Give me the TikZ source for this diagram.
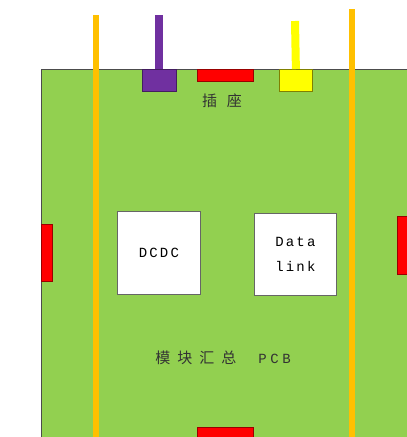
\documentclass[tikz,border=0pt]{standalone}
\usepackage{fontspec}
\newfontfamily\cjk{Noto Sans CJK SC}
\setmonofont{Liberation Mono}
\definecolor{pcbgreen}{HTML}{92D050}
\definecolor{rail}{HTML}{FFC000}
\definecolor{purp}{HTML}{7030A0}
\definecolor{yel}{HTML}{FFFF00}
\newcommand{\lsp}{\hspace{2.2pt}}
\newcommand{\csp}{\hspace{10pt}}
\tikzset{
  part/.style={draw=#1!60!black, line width=0.8pt, inner sep=0pt, outer sep=0pt},
  redpad/.style={part=red, fill=red, rectangle, anchor=north west},
  chip/.style={draw=black!60, fill=white, line width=0.8pt, rectangle, anchor=north west, inner sep=0pt, align=center, font=\fontsize{14}{16}\selectfont\ttfamily},
  lbl/.style={font=\fontsize{15}{17}\selectfont, text=black!80},
}
\begin{document}
\begin{tikzpicture}[x=1pt,y=-1pt]
\useasboundingbox (0,0) rectangle (407,437);
% board
\fill[pcbgreen] (41,69) rectangle (407,437);
\draw[black!70, line width=0.8pt] (41,437) -- (41,69) -- (407,69);
% pads
\node[redpad, minimum width=56, minimum height=12] (rtop) at (197,69) {};
\node[redpad, minimum width=11, minimum height=57] (rleft) at (41,224) {};
\node[redpad, minimum width=12, minimum height=58] (rright) at (397,216) {};
\node[redpad, minimum width=56, minimum height=12] (rbot) at (197,427) {};
% connectors
\node[part=purp, fill=purp, anchor=north west, minimum width=34, minimum height=22] (pbox) at (142,69) {};
\node[draw=yel!50!black, line width=0.8pt, fill=yel, anchor=north west, minimum width=33, minimum height=22, inner sep=0pt] (ybox) at (279,69) {};
\coordinate (ptop) at (159,15);
\coordinate (ytop) at (295,21);
\draw[purp, line width=8pt] (ptop) -- (pbox.north);
\draw[yel, line width=8pt] (ytop) -- (ybox.north);
% chips
\node[chip, minimum width=83, minimum height=83] (dcdc) at (117,211) {D\lsp C\lsp D\lsp C};
\node[chip, minimum width=82, minimum height=82] (dl) at (254,213) {D\lsp a\lsp t\lsp a\\[9pt]l\lsp i\lsp n\lsp k};
% labels
\node[lbl] (socket) at (222,101) {\cjk 插\csp 座};
\node[lbl] (pcb) at (223,358) {\cjk 模\hspace{7pt}块\hspace{7pt}汇\hspace{7pt}总\hspace{22pt}\fontsize{14}{16}\selectfont\ttfamily P\hspace{3.6pt}C\hspace{3.6pt}B};
% rails
\coordinate (l1) at (96,15); \coordinate (l2) at (96,437);
\coordinate (r1) at (352,9); \coordinate (r2) at (352,437);
\draw[rail, line width=6pt] (l1) -- (l2);
\draw[rail, line width=6pt] (r1) -- (r2);
\end{tikzpicture}
\end{document}
